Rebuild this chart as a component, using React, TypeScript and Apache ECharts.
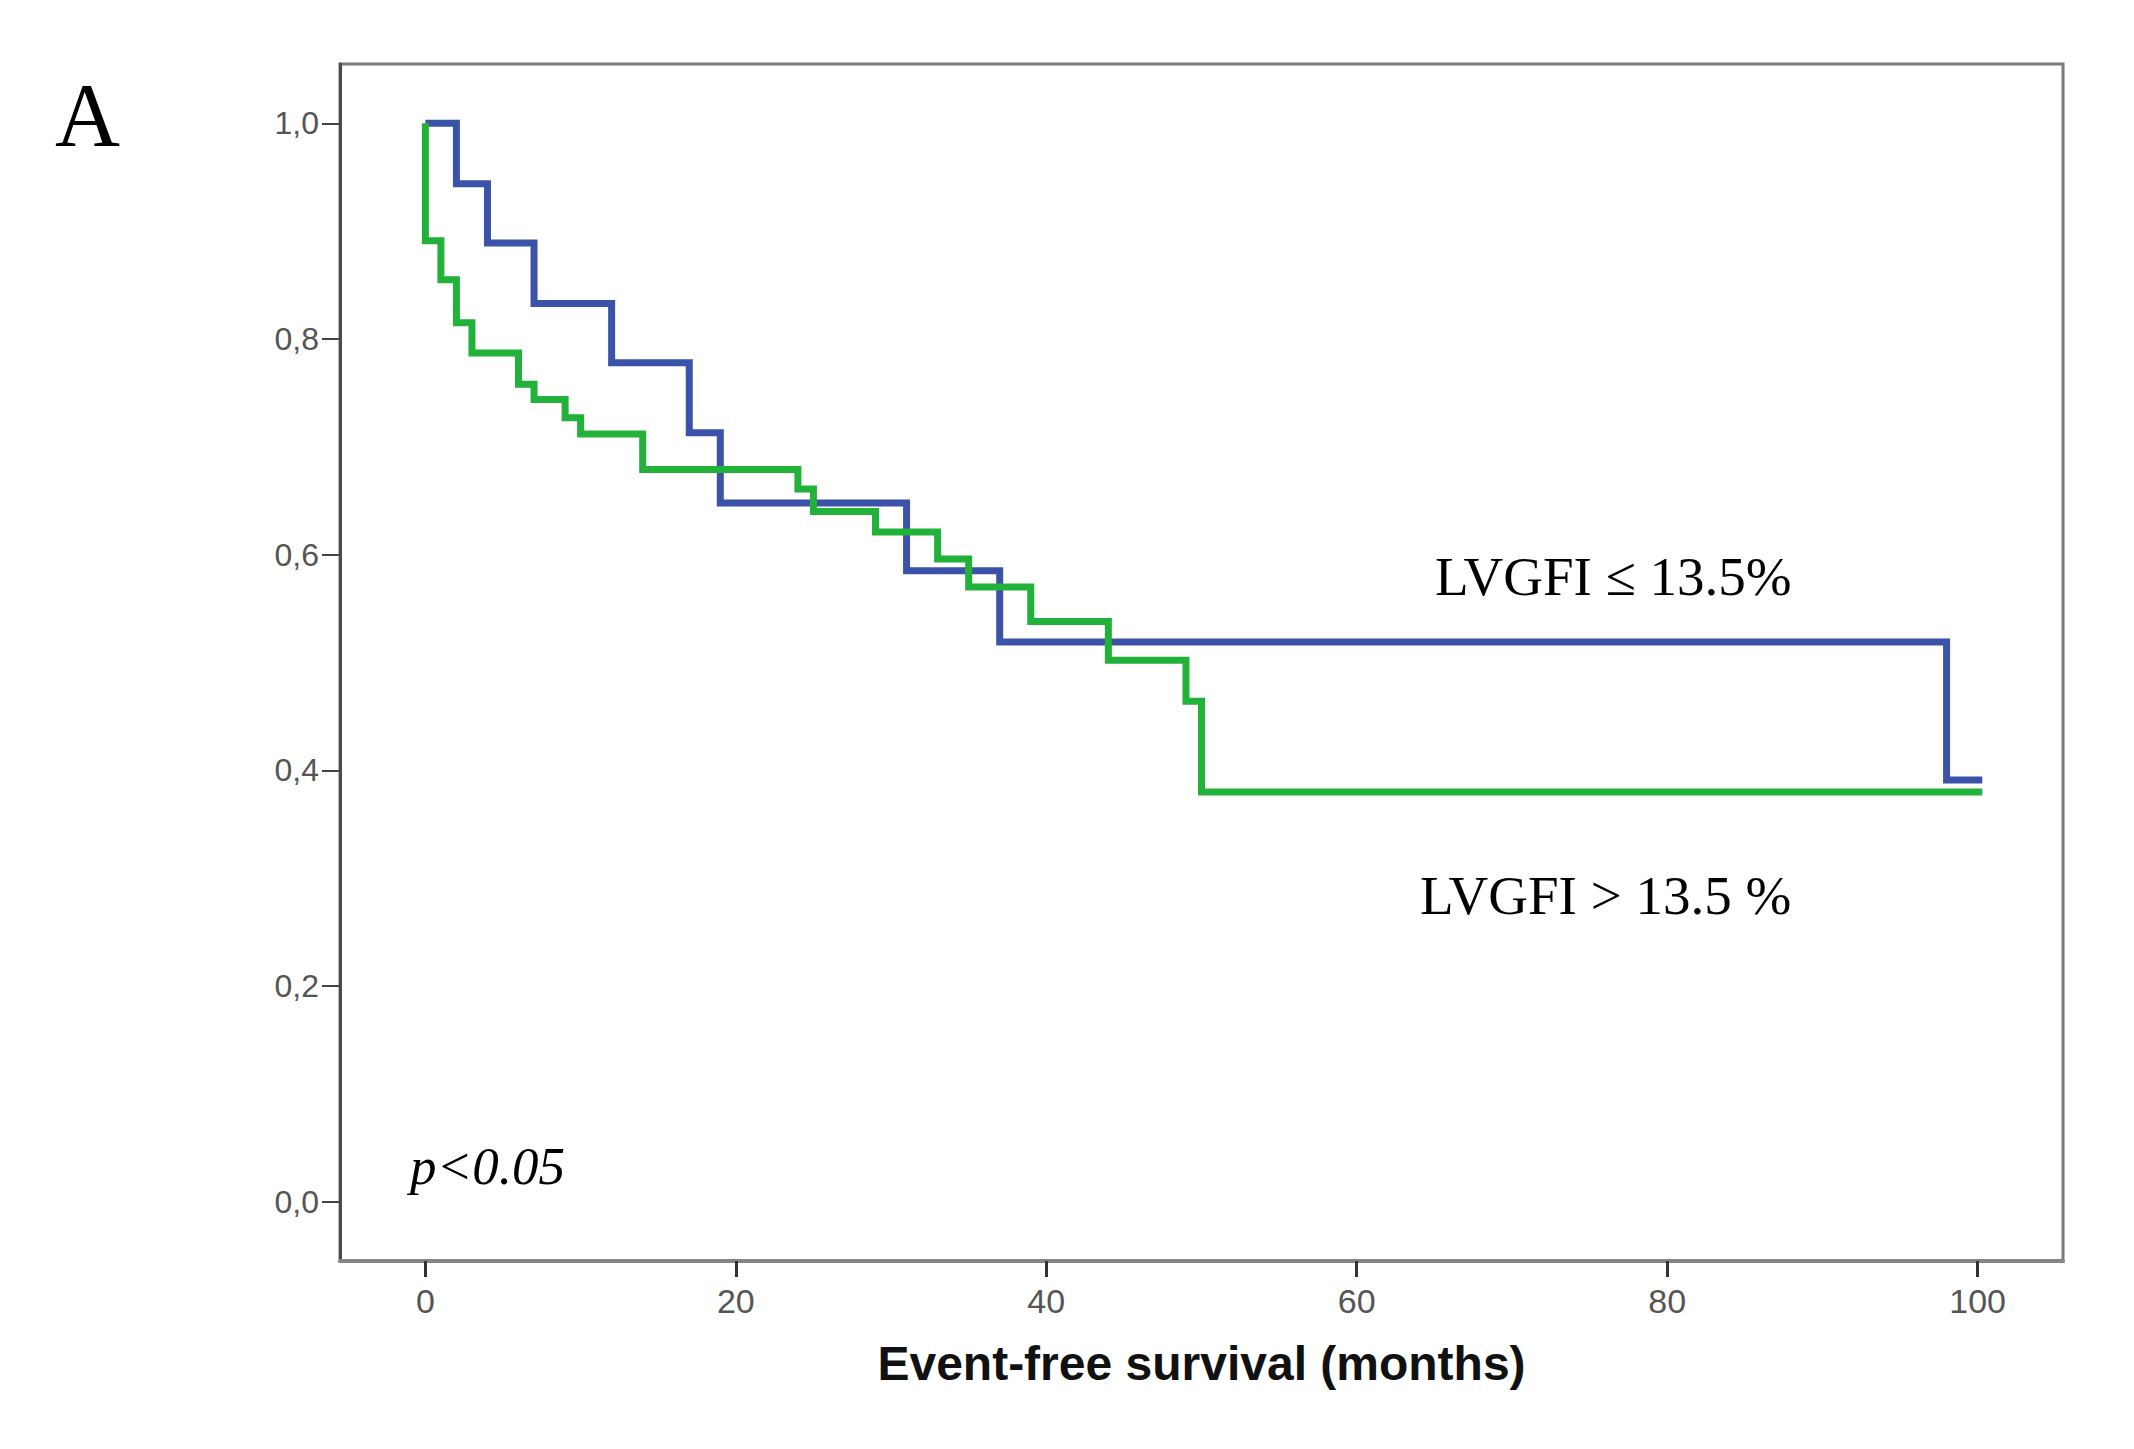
import React, { useEffect, useRef } from "react";
import * as echarts from "echarts";

// Kaplan-Meier curves (time in months, cumulative survival)
const lowTimes = [0, 2, 4, 7, 12, 17, 19, 31, 37, 98, 100.3];
const lowSurvival = [1, 0.944, 0.889, 0.833, 0.778, 0.713, 0.648, 0.585, 0.519, 0.391, 0.391];

const highTimes = [0, 0, 1, 2, 3, 6, 7, 9, 10, 14, 24, 25, 29, 33, 35, 39, 44, 49, 50, 100.3];
const highSurvival = [1, 0.891, 0.855, 0.815, 0.787, 0.758, 0.744, 0.727, 0.712, 0.679, 0.661, 0.64, 0.621, 0.596, 0.57, 0.538, 0.502, 0.464, 0.38, 0.38];

const xTicks = [0, 20, 40, 60, 80, 100];
const yTicks = [0, 0.2, 0.4, 0.6, 0.8, 1.0];

const lowLabel = "LVGFI ≤ 13.5%";
const highLabel = "LVGFI > 13.5 %";
const pLabel = "p<0.05";
const panelLabel = "A";
const xTitle = "Event-free survival (months)";

export default function App() {
  const ref = useRef<HTMLDivElement>(null);
  useEffect(() => {
    if (!ref.current) return;
    const chart = echarts.init(ref.current, null, { renderer: "svg" });
    const pairs = (xs: number[], ys: number[]) => xs.map((x, i) => [x, ys[i]]);
    chart.setOption({
      animation: false,
      backgroundColor: "#ffffff",
      grid: {
        left: 340,
        top: 64,
        right: 71,
        bottom: 188,
        show: true,
        borderColor: "#7a7a7a",
        borderWidth: 3,
        backgroundColor: "transparent",
      },
      xAxis: {
        type: "value",
        min: -5.5,
        max: 105.5,
        name: xTitle,
        nameLocation: "middle",
        nameGap: 78,
        nameTextStyle: {
          fontFamily: "Liberation Sans, Arial, sans-serif",
          fontWeight: "bold",
          fontSize: 48,
          color: "#111111",
        },
        splitLine: { show: false },
        axisLine: { show: true, onZero: false, lineStyle: { color: "#858585", width: 4 } },
        axisTick: {
          show: true,
          customValues: xTicks,
          length: 16,
          lineStyle: { color: "#333333", width: 3 },
        },
        axisLabel: {
          customValues: xTicks,
          margin: 23,
          fontFamily: "Liberation Sans, Arial, sans-serif",
          fontSize: 34,
          color: "#555555",
        },
      },
      yAxis: {
        type: "value",
        min: -0.055,
        max: 1.055,
        splitLine: { show: false },
        axisLine: { show: true, onZero: false, lineStyle: { color: "#4a4a4a", width: 3 } },
        axisTick: {
          show: true,
          customValues: yTicks,
          length: 18,
          lineStyle: { color: "#444444", width: 2 },
        },
        axisLabel: {
          customValues: yTicks,
          margin: 21,
          fontFamily: "Liberation Sans, Arial, sans-serif",
          fontSize: 32,
          color: "#555555",
          formatter: (v: number) => v.toFixed(1).replace(".", ","),
        },
      },
      series: [
        {
          name: lowLabel,
          type: "line",
          step: "end",
          data: pairs(lowTimes, lowSurvival),
          symbol: "none",
          lineStyle: { color: "#3a53a8", width: 7, join: "miter" },
          z: 2,
        },
        {
          name: highLabel,
          type: "line",
          step: "end",
          data: pairs(highTimes, highSurvival),
          symbol: "none",
          lineStyle: { color: "#22b23a", width: 7, join: "miter" },
          z: 3,
        },
      ],
      graphic: [
        {
          type: "text",
          left: 55,
          top: 70,
          style: {
            text: panelLabel,
            font: "90px 'Liberation Serif', 'Times New Roman', serif",
            fill: "#000000",
          },
        },
        {
          type: "text",
          x: 410,
          y: 1166,
          style: {
            text: pLabel,
            font: "italic 53px 'Liberation Serif', 'Times New Roman', serif",
            fill: "#000000",
            verticalAlign: "middle",
          },
        },
        {
          type: "text",
          x: 1435,
          y: 576,
          style: {
            text: lowLabel,
            font: "55px 'Liberation Serif', 'Times New Roman', serif",
            fill: "#000000",
            verticalAlign: "middle",
          },
        },
        {
          type: "text",
          x: 1420,
          y: 895,
          style: {
            text: highLabel,
            font: "55px 'Liberation Serif', 'Times New Roman', serif",
            fill: "#000000",
            verticalAlign: "middle",
          },
        },
      ],
    });
    return () => chart.dispose();
  }, []);
  return (
    <div
      ref={ref}
      style={{ position: "fixed", left: 0, top: 0, width: 2134, height: 1449, background: "#fff" }}
    />
  );
}
